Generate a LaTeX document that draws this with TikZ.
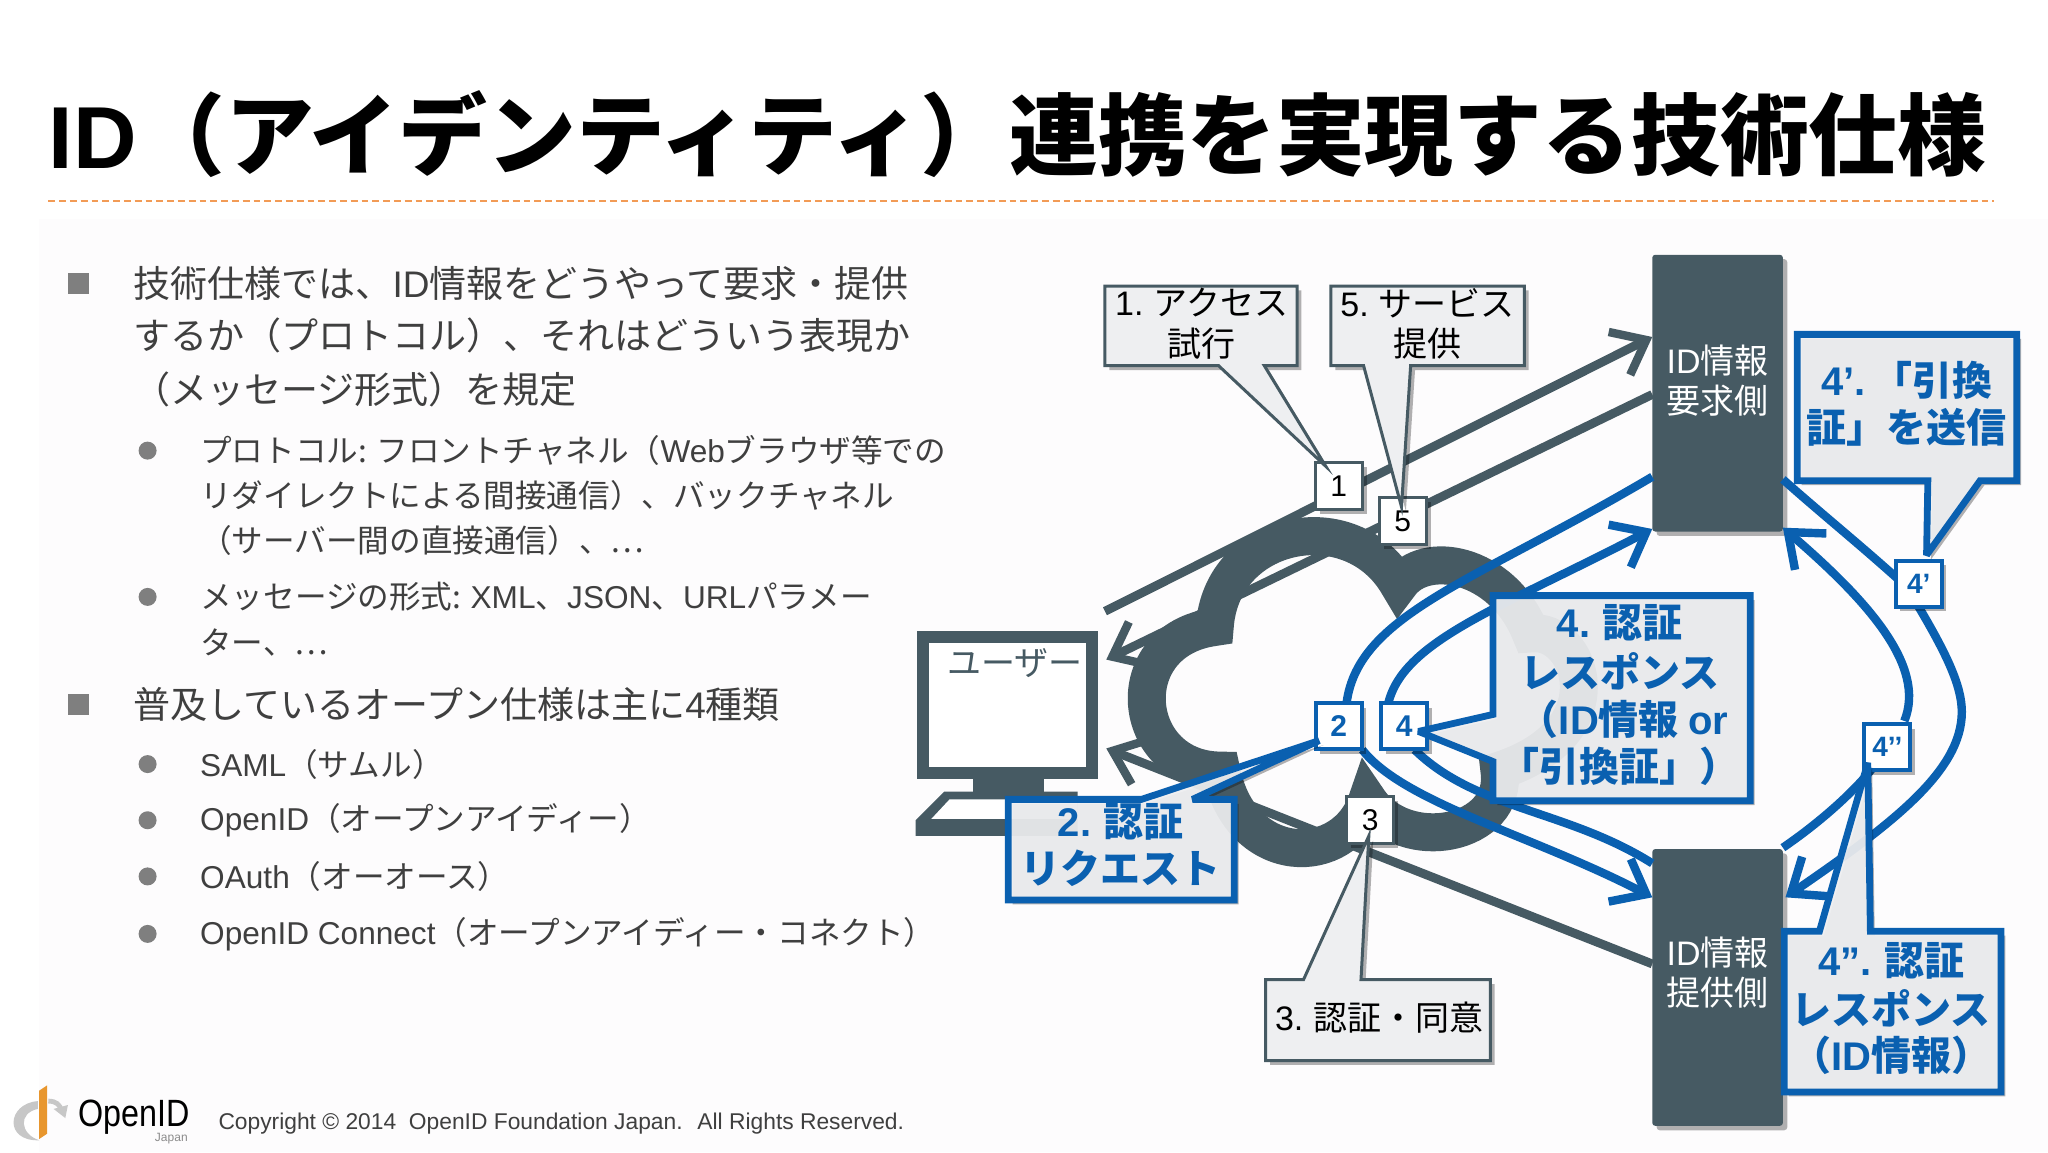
\documentclass[tikz,border=0pt]{standalone}
\usepackage{fontspec}
\usepackage{graphicx}
\setmainfont{Noto Sans CJK JP}
\newfontfamily\lat{Liberation Sans}
\usetikzlibrary{arrows.meta,shadows,calc}
\definecolor{slate}{HTML}{465A63}
\definecolor{idblue}{HTML}{0A60B0}
\definecolor{callfill}{HTML}{EEEFF1}
\definecolor{txt}{HTML}{3F3F3F}
\definecolor{bul}{HTML}{7F7F7F}
\definecolor{dashcol}{HTML}{F29B56}
\definecolor{logoorange}{HTML}{E8962E}
\definecolor{pagetint}{HTML}{FDFCFD}
\tikzset{
  x=0.65306pt,y=-0.65306pt,
  softshadow/.style={drop shadow={shadow xshift=2.2pt,shadow yshift=-2.2pt,opacity=.3,fill=black}},
  head/.style={-{Straight Barb[length=15pt,width=24pt,line width=4.2pt]}},
  darkarrow/.style={draw=slate,line width=4.4pt},
  bluearrow/.style={draw=idblue,line width=4.2pt},
  idbox/.style={draw=none,fill=slate,rounded corners=1.5pt,minimum width=65.3pt,minimum height=138.4pt,inner sep=0pt,softshadow},
  tagdark/.style={draw=slate,line width=1.4pt,fill=white,minimum size=23.5pt,inner sep=0pt,softshadow,font=\lat\fontsize{15}{15}\selectfont,text=black},
  tagblue/.style={draw=idblue,line width=1.9pt,fill=white,minimum size=23pt,inner sep=0pt,softshadow,font=\lat\bfseries\fontsize{15}{15}\selectfont,text=idblue},
  tagbluesmall/.style={tagblue,font=\lat\bfseries\fontsize{14}{14}\selectfont},
  calldark/.style={draw=slate,line width=1.5pt,fill=callfill,softshadow,line join=miter},
  callblue/.style={draw=idblue,line width=3.4pt,fill=callfill,fill opacity=.93,draw opacity=1,softshadow,line join=miter,miter limit=3},
  lbldark/.style={text=black,font=\fontsize{17}{20}\selectfont,inner sep=0pt},
  lblblue/.style={text=idblue,font=\bfseries\fontsize{20}{24}\selectfont,inner sep=0pt},
  lblwhite/.style={text=white,font=\fontsize{17}{20}\selectfont,inner sep=0pt},
  bodyA/.style={anchor=west,text=txt,inner sep=0pt,font=\fontsize{18.5}{19}\selectfont},
  bodyB/.style={anchor=west,text=txt,inner sep=0pt,font=\fontsize{15.8}{17}\selectfont},
  sqb/.style={fill=bul,draw=none,minimum size=10.5pt,inner sep=0pt},
  cib/.style={fill=bul,draw=none,circle,minimum size=9pt,inner sep=0pt},
}
\begin{document}
\begin{tikzpicture}
\useasboundingbox (0,0) rectangle (1568,882);
\fill[white] (0,0) rectangle (1568,882);
\fill[pagetint] (30,168) rectangle (1568,882);

% title
\node[anchor=west,inner sep=0pt,text=black,font=\bfseries\fontsize{44.4}{46}\selectfont] (title) at (37,103) {{\lat\fontsize{44}{46}\selectfont ID}（アイデンティティ）連携を実現する技術仕様};
\coordinate (dl) at (37,154); \coordinate (dr) at (1527,154);
\draw[dashcol,line width=.9pt,dash pattern=on 3.4pt off 2pt] (dl) -- (dr);

% body
\node[sqb] (b1) at (60,217) {};
\node[bodyA] (t1) at (102,217) {技術仕様では、{\lat ID}情報をどうやって要求・提供};
\node[bodyA] (t2) at (102,257) {するか（プロトコル）、それはどういう表現か};
\node[bodyA] (t3) at (102,298) {（メッセージ形式）を規定};
\node[cib] (b2) at (113,345) {};
\node[bodyB] (t4) at (153,345) {プロトコル: フロントチャネル（{\lat Web}ブラウザ等での};
\node[bodyB] (t5) at (153,379) {リダイレクトによる間接通信）、バックチャネル};
\node[bodyB] (t6) at (153,414) {（サーバー間の直接通信）、…};
\node[cib] (b3) at (113,457) {};
\node[bodyB] (t7) at (153,457) {メッセージの形式: {\lat XML}、{\lat JSON}、{\lat URL}パラメー};
\node[bodyB] (t8) at (153,492) {ター、…};
\node[sqb] (b4) at (60,539) {};
\node[bodyA] (t9) at (102,539) {普及しているオープン仕様は主に{\lat 4}種類};
\node[cib] (b5) at (113,585) {};
\node[bodyB] (t10) at (153,585) {{\lat SAML}（サムル）};
\node[cib] (b6) at (113,628) {};
\node[bodyB] (t11) at (153,628) {{\lat OpenID}（オープンアイディー）};
\node[cib] (b7) at (113,671) {};
\node[bodyB] (t12) at (153,671) {{\lat OAuth}（オーオース）};
\node[cib] (b8) at (113,715) {};
\node[bodyB] (t13) at (153,715) {{\lat OpenID Connect}（オープンアイディー・コネクト）};

% footer
\fill[black!22] (29,843) .. controls (5,845) and (3,874) .. (30,873) .. controls (15,868) and (14,852) .. (29,849) -- cycle;
\draw[black!22,line width=2.4pt] (37,843) .. controls (43,843) and (46,846) .. (47,850);
\fill[black!22] (41,849) -- (52,846) -- (50,856) -- cycle;
\fill[logoorange] (30,835) -- (36,831) -- (36,868) -- (30,872) -- cycle;
\node[anchor=west,inner sep=0pt,text=black,font=\lat\fontsize{19}{20}\selectfont] (logo) at (60,855) {\scalebox{.85}[1]{OpenID}};
\node[anchor=east,inner sep=0pt,text=black!45,font=\lat\fontsize{6}{7}\selectfont] (logoj) at (144,872) {Japan};
\node[anchor=west,inner sep=0pt,text=txt,font=\lat\fontsize{11.4}{13}\selectfont] (copy) at (167,860) {Copyright © 2014~ OpenID Foundation Japan.~ All Rights Reserved.};

% cloud
\draw[slate,line width=19pt,line join=miter,miter limit=6] (930,480)
  .. controls (935,405) and (1035,385) .. (1071,448)
  .. controls (1090,420) and (1150,430) .. (1172,485)
  .. controls (1210,480) and (1240,560) .. (1148,590)
  .. controls (1155,640) and (1075,655) .. (1047,612)
  .. controls (1030,665) and (950,665) .. (935,590)
  .. controls (865,590) and (855,490) .. cycle;

% named ends
\coordinate (a1s) at (846,468); \coordinate (a1e) at (1265,258);
\coordinate (a5s) at (1265,302); \coordinate (a5e) at (847,505);
\coordinate (a3s) at (1265,738); \coordinate (a3e) at (847,573);

% dark arrows
\draw[darkarrow,head] (a1s) -- (a1e);
\draw[darkarrow,head] (a5s) -- (a5e);
\draw[darkarrow,head] (a3s) -- (a3e);

% monitor
\draw[slate,line width=6pt,fill=white,drop shadow={shadow xshift=1.5pt,shadow yshift=-1.5pt,opacity=.25,fill=black}] (707,488) rectangle (836,592);
\fill[slate] (745,596) rectangle (799,608);
\fill[slate] (723,606) -- (825,606) -- (825,640) -- (701,640) -- (701,628) -- cycle;
\fill[white] (727,612) -- (825,612) -- (825,627) -- (713,627) -- cycle;
\node[text=slate,inner sep=0pt,font=\fontsize{17}{18}\selectfont] (userl) at (777,508) {ユーザー};

% ID boxes
\node[idbox] (req) at (1315,301) {};
\node[idbox] (prov) at (1315,756) {};
\node[lblwhite] (reqa) at (1315,276) {{\lat ID}情報};
\node[lblwhite] (reqb) at (1315,307) {要求側};
\node[lblwhite] (prova) at (1315,729) {{\lat ID}情報};
\node[lblwhite] (provb) at (1315,760) {提供側};

% curve ends
\coordinate (r1) at (1265,365);
\coordinate (r2) at (1265,405);
\coordinate (r3) at (1365,367);
\coordinate (r4) at (1365,404);
\coordinate (p1) at (1265,661);
\coordinate (p2) at (1265,687);
\coordinate (p3) at (1365,649);
\coordinate (p4) at (1367,687);
\coordinate (s2a) at (1031,538);
\coordinate (s4a) at (1063,538);
\coordinate (s2b) at (1043,574);
\coordinate (s4b) at (1083,574);
\coordinate (q1) at (1455,445);
\coordinate (q2) at (1468,463);
\coordinate (q3) at (1502,545);
\coordinate (q4) at (1436,585);
\coordinate (q5) at (1458,552);

% blue curves
\draw[bluearrow] (s2a) .. controls (1040,470) and (1130,445) .. (r1);
\draw[bluearrow,head] (s4a) .. controls (1075,490) and (1150,465) .. (r2);
\draw[bluearrow,head] (s2b) .. controls (1075,615) and (1175,640) .. (p2);
\draw[bluearrow] (s4b) .. controls (1130,620) and (1200,620) .. (p1);
\draw[bluearrow] (r3) .. controls (1393,392) and (1424,417) .. (q1);
\draw[bluearrow,head] (q2) .. controls (1490,500) and (1502,525) .. (q3) .. controls (1502,590) and (1450,630) .. (p4);
\draw[bluearrow] (p3) .. controls (1400,625) and (1425,600) .. (q4);
\draw[bluearrow,head] (q5) .. controls (1475,510) and (1430,460) .. (r4);

% tags
\node[tagdark] (n1) at (1025,372) {1};
\node[tagdark] (n5) at (1074,399) {5};
\node[tagdark] (n3) at (1049,628) {3};
\node[tagblue] (n2) at (1025,556) {2};
\node[tagblue] (n4) at (1075,556) {4};
\node[tagbluesmall] (n4a) at (1469,447) {4’};
\node[tagbluesmall] (n4b) at (1445,572) {4’’};

% dark callouts
\draw[calldark] (846,219) -- (993,219) -- (993,280) -- (968,280) -- (1015,357) -- (933,280) -- (846,280) -- cycle;
\node[lbldark] (c1a) at (920,232) {{\lat 1.} アクセス};
\node[lbldark] (c1b) at (920,263) {試行};
\draw[calldark] (1019,219) -- (1167,219) -- (1167,280) -- (1080,280) -- (1073,388) -- (1044,280) -- (1019,280) -- cycle;
\node[lbldark] (c5a) at (1093,232) {{\lat 5.} サービス};
\node[lbldark] (c5b) at (1093,263) {提供};
\draw[calldark] (969,750) -- (998,750) -- (1048,640) -- (1042,750) -- (1141,750) -- (1141,812) -- (969,812) -- cycle;
\node[lbldark] (c3a) at (1056,779) {{\lat 3.} 認証・同意};

% blue callouts
\draw[callblue] (772,612) -- (874,612) -- (1010,567) -- (913,612) -- (945,612) -- (945,689) -- (772,689) -- cycle;
\node[lblblue] (c2a) at (858,629) {{\lat 2.} 認証};
\node[lblblue] (c2b) at (858,665) {リクエスト};
\draw[callblue] (1143,456) -- (1340,456) -- (1340,613) -- (1143,613) -- (1143,583) -- (1086,560) -- (1143,547) -- cycle;
\node[lblblue] (c4a) at (1240,477) {{\lat 4.} 認証};
\node[lblblue] (c4b) at (1240,514) {レスポンス};
\node[lblblue] (c4c) at (1243,551) {（{\lat ID}情報 {\lat or}};
\node[lblblue] (c4d) at (1240,587) {「引換証」）};
\draw[callblue] (1376,256) -- (1544,256) -- (1544,368) -- (1516,368) -- (1475,425) -- (1476,368) -- (1376,368) -- cycle;
\node[lblblue] (c4pa) at (1460,291) {{\lat 4’.\,}「引換};
\node[lblblue] (c4pb) at (1460,327) {証」を送信};
\draw[callblue] (1366,713) -- (1393,713) -- (1430,584) -- (1432,713) -- (1532,713) -- (1532,836) -- (1366,836) -- cycle;
\node[lblblue] (c4qa) at (1448,736) {{\lat 4”.} 認証};
\node[lblblue] (c4qb) at (1448,772) {レスポンス};
\node[lblblue] (c4qc) at (1448,808) {（{\lat ID}情報）};
\end{tikzpicture}
\end{document}
